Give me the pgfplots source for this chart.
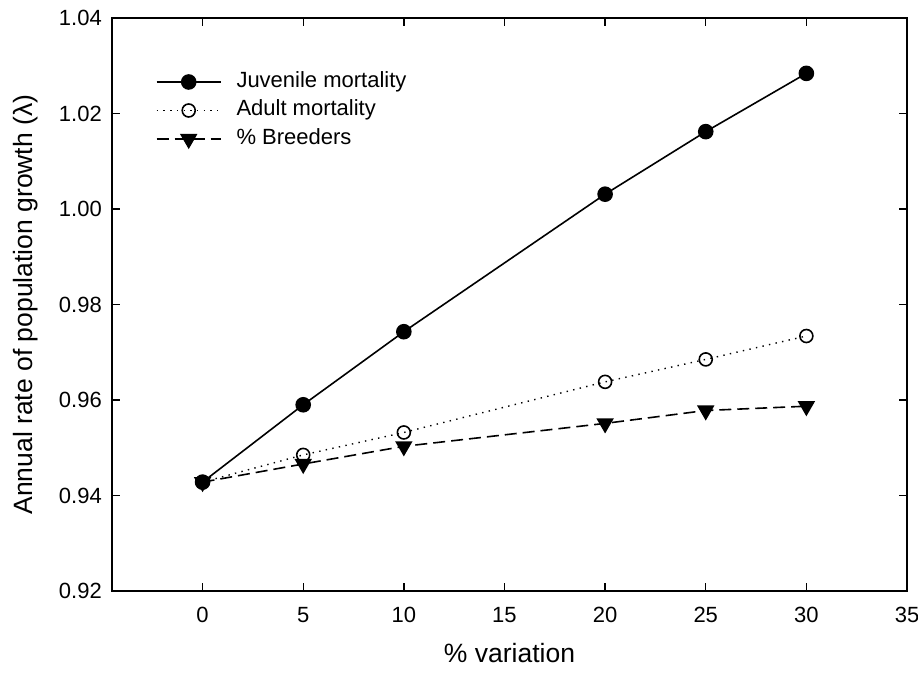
\documentclass[border=0pt]{standalone}
\usepackage{pgfplots}
\pgfplotsset{compat=1.18}
\usepackage{fontspec}
\setmainfont{Liberation Sans}

\pgfplotsset{
  juv/.style={black, line width=1.6pt, mark=*, mark size=7pt,
    mark options={solid, fill=black}},
  adu/.style={black, line width=1.4pt, dash pattern=on 1.4pt off 5.3pt, mark=o, mark size=6.5pt,
    mark options={solid, fill=white, line width=1.6pt}},
  bre/.style={black, line width=1.6pt, dash pattern=on 12pt off 6pt, mark=triangle*, mark size=8.5pt,
    mark options={solid, fill=black, rotate=180}},
}

\begin{document}
\begin{tikzpicture}
\useasboundingbox (-112pt,-83pt) rectangle (806pt,591pt);
\begin{axis}[
    at={(0pt,0pt)}, anchor=south west,
    scale only axis,
    width=795pt, height=573pt,
    xmin=-4.5, xmax=35,
    ymin=0.92, ymax=1.04,
    xtick={0,5,...,35},
    ytick={0.92,0.94,...,1.04},
    tick align=inside,
    major tick length=8pt,
    axis line style={line width=1.5pt},
    tick style={line width=1.4pt, black},
    /pgf/number format/assume math mode=true,
    ticklabel style={font=\fontsize{22}{26}\selectfont, inner sep=0pt},
    xticklabel style={anchor=north, yshift=-16pt},
    yticklabel style={anchor=east, xshift=-10pt,
      /pgf/number format/.cd, fixed, fixed zerofill, precision=2},
    xlabel={\% variation},
    ylabel={Annual rate of population growth (λ)},
    label style={font=\fontsize{26.5}{30}\selectfont, inner sep=0pt},
    xlabel style={at={(axis description cs:0.5,0)}, anchor=north, yshift=-52pt},
    ylabel style={at={(axis description cs:0,0.5)}, anchor=south, yshift=74pt},
    legend cell align=left,
    legend image code/.code={
      \draw[mark repeat=2, mark phase=2, #1] plot coordinates {(0pt,0pt) (32pt,0pt) (64pt,0pt)};
    },
    legend style={draw=none, fill=none, inner sep=0pt,
      at={(axis description cs:0.055,0.907)}, anchor=north west,
      font=\fontsize{22}{26}\selectfont,
      nodes={inner xsep=0pt, inner ysep=0pt, text height=16pt, text depth=5pt},
      row sep=7.5pt,
      /tikz/every odd column/.append style={column sep=15pt}},
    clip=false,
]
\addlegendimage{juv}
\addlegendentry{Juvenile mortality}
\addlegendimage{adu}
\addlegendentry{Adult mortality}
\addlegendimage{bre}
\addlegendentry{\% Breeders}

\addplot[adu, forget plot] coordinates {
  (0,0.9428) (5,0.9485) (10,0.9532) (20,0.9638) (25,0.9685) (30,0.9734)
};
\addplot[bre, forget plot] coordinates {
  (0,0.9428) (5,0.9466) (10,0.9503) (20,0.9551) (25,0.9578) (30,0.9587)
};
\addplot[juv, forget plot] coordinates {
  (0,0.9428) (5,0.9590) (10,0.9743) (20,1.0031) (25,1.0162) (30,1.0284)
};
\end{axis}
\end{tikzpicture}
\end{document}
